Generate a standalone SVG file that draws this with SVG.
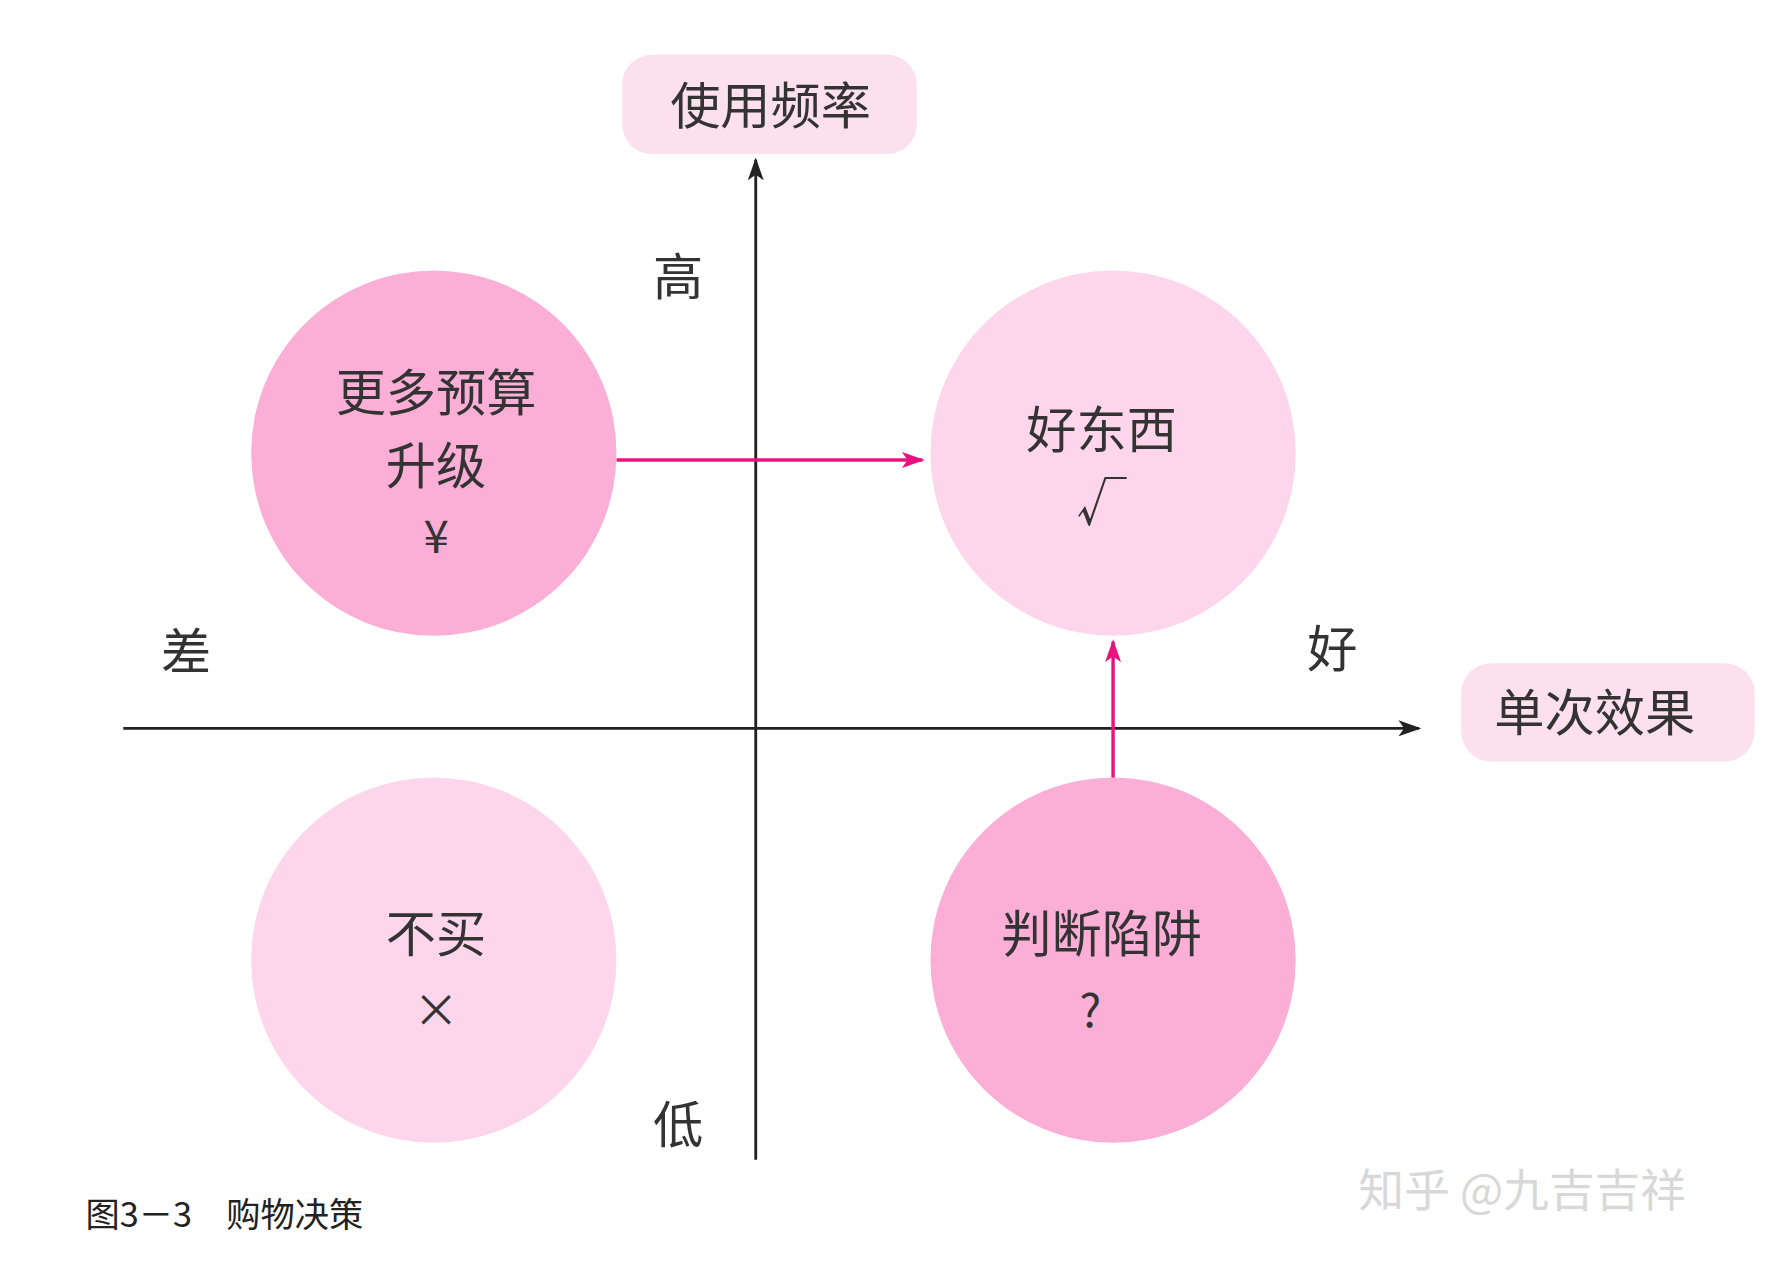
<svg xmlns="http://www.w3.org/2000/svg" width="1790" height="1262" viewBox="0 0 1790 1262">
<style>
.t{font-family:"Noto Sans CJK SC","Liberation Serif",serif;fill:#333;text-anchor:middle}
.ax{stroke:#222;stroke-width:2.5;fill:none}
.pk{stroke:#e8137f;stroke-width:3;fill:none}
.dark{fill:#fbaed6}
.light{fill:#fdd6eb}
.box{fill:#fde0ee}
</style>
<defs>
<marker id="ab" viewBox="0 0 20 14" refX="18" refY="7" markerWidth="20" markerHeight="14" markerUnits="userSpaceOnUse" orient="auto"><path d="M0,0 L20,7 L0,14 L5,7 Z" fill="#222"/></marker>
<marker id="ap" viewBox="0 0 20 14" refX="18" refY="7" markerWidth="20" markerHeight="14" markerUnits="userSpaceOnUse" orient="auto"><path d="M0,0 L20,7 L0,14 L5,7 Z" fill="#e8137f"/></marker>
</defs>
<rect width="1790" height="1262" fill="#fff"/>
<g transform="scale(1.1416)">
<g id="connectors">
<line class="ax" x1="662" y1="1016" x2="662" y2="140" marker-end="url(#ab)" stroke-width="2.5"/>
<line class="ax" x1="108" y1="638" x2="1243" y2="638" marker-end="url(#ab)"/>
<line class="pk" x1="540" y1="403" x2="808" y2="403" marker-end="url(#ap)"/>
<line class="pk" x1="975" y1="682" x2="975" y2="562" marker-end="url(#ap)"/>
</g>
<g id="yLabel"><rect class="box" x="545" y="48" width="258" height="87" rx="26"/><text class="t" x="675" y="109" font-size="44">使用频率</text></g>
<g id="xLabel"><rect class="box" x="1280" y="581" width="257" height="86" rx="26"/><text class="t" x="1397" y="640" font-size="44">单次效果</text></g>
<g id="n1"><circle class="dark" cx="380" cy="397" r="160"/>
<text class="t" x="382" y="360" font-size="44">更多预算</text><text class="t" x="382" y="424" font-size="44">升级</text><text class="t" x="382" y="484" font-size="40">¥</text></g>
<g id="n2"><circle class="light" cx="975" cy="397" r="160"/>
<text class="t" x="965" y="392" font-size="44">好东西</text><text class="t" x="965" y="456" font-size="44">√</text></g>
<g id="n3"><circle class="light" cx="380" cy="841" r="160"/>
<text class="t" x="382" y="834" font-size="44">不买</text><text class="t" x="382" y="900" font-size="40">×</text></g>
<g id="n4"><circle class="dark" cx="975" cy="841" r="160"/>
<text class="t" x="965" y="834" font-size="44">判断陷阱</text><text class="t" x="955" y="900" font-size="40">?</text></g>
<text class="t" x="594" y="258" font-size="44">高</text>
<text class="t" x="594" y="1001" font-size="44">低</text>
<text class="t" x="163" y="587" font-size="44">差</text>
<text class="t" x="1167" y="584" font-size="44">好</text>
<text x="75" y="1075" font-size="30" font-family="Noto Sans CJK SC,sans-serif" fill="#222">图3－3　购物决策</text>
<text x="1190" y="1057" font-size="40" font-family="Noto Sans CJK SC,sans-serif" fill="#d8d8d8">知乎 @九吉吉祥</text>
</g>
</svg>
